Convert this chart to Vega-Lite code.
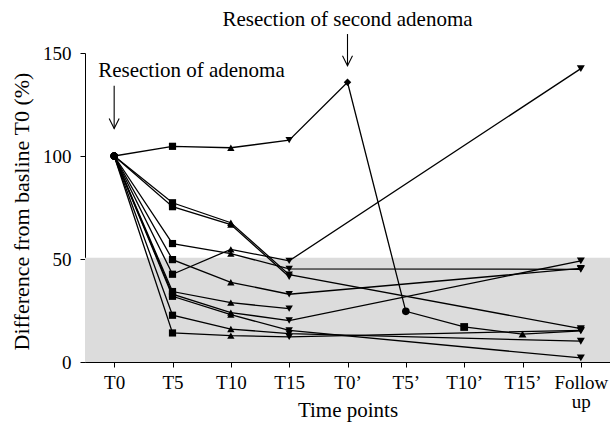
{
  "$schema": "https://vega.github.io/schema/vega-lite/v6.json",
  "width": 525,
  "height": 309,
  "autosize": "none",
  "padding": {"left": 85, "top": 53, "right": 0, "bottom": 61},
  "background": "white",
  "config": {
    "view": {"stroke": null},
    "font": "Liberation Serif",
    "axis": {
      "labelFont": "Liberation Serif",
      "titleFont": "Liberation Serif",
      "labelFontSize": 19,
      "titleFontSize": 20,
      "titleFontWeight": "normal",
      "labelColor": "black",
      "titleColor": "black",
      "domainColor": "black",
      "tickColor": "black",
      "tickSize": 5,
      "grid": false
    }
  },
  "datasets": {
    "series": [
      {"id": "A", "step": 0, "time": "T0", "value": 100},
      {"id": "A", "step": 1, "time": "T5", "value": 104.7},
      {"id": "A", "step": 2, "time": "T10", "value": 104},
      {"id": "A", "step": 3, "time": "T15", "value": 107.7},
      {"id": "A", "step": 4, "time": "T0’", "value": 135.8},
      {"id": "A", "step": 5, "time": "T5’", "value": 24.6},
      {"id": "A", "step": 6, "time": "T10’", "value": 17},
      {"id": "A", "step": 7, "time": "T15’", "value": 13.5},
      {"id": "A", "step": 8, "time": "Follow up", "value": 15.1},

      {"id": "U1", "step": 0, "time": "T0", "value": 100},
      {"id": "U1", "step": 1, "time": "T5", "value": 77.3},
      {"id": "U1", "step": 2, "time": "T10", "value": 67.6},
      {"id": "U1", "step": 3, "time": "T15", "value": 42.4},
      {"id": "U1", "step": 8, "time": "Follow up", "value": 16.2},

      {"id": "U2", "step": 0, "time": "T0", "value": 100},
      {"id": "U2", "step": 1, "time": "T5", "value": 75.4},
      {"id": "U2", "step": 2, "time": "T10", "value": 66.7},
      {"id": "U2", "step": 3, "time": "T15", "value": 41.4},

      {"id": "U3", "step": 0, "time": "T0", "value": 100},
      {"id": "U3", "step": 1, "time": "T5", "value": 57.5},
      {"id": "U3", "step": 2, "time": "T10", "value": 52.6},
      {"id": "U3", "step": 3, "time": "T15", "value": 45.2},
      {"id": "U3", "step": 8, "time": "Follow up", "value": 45},

      {"id": "U4", "step": 0, "time": "T0", "value": 100},
      {"id": "U4", "step": 1, "time": "T5", "value": 42.6},
      {"id": "U4", "step": 2, "time": "T10", "value": 54.7},
      {"id": "U4", "step": 3, "time": "T15", "value": 49.1},
      {"id": "U4", "step": 8, "time": "Follow up", "value": 142.4},

      {"id": "U5", "step": 0, "time": "T0", "value": 100},
      {"id": "U5", "step": 1, "time": "T5", "value": 49.7},
      {"id": "U5", "step": 2, "time": "T10", "value": 38.7},
      {"id": "U5", "step": 3, "time": "T15", "value": 32.9},
      {"id": "U5", "step": 8, "time": "Follow up", "value": 45.4},

      {"id": "L1", "step": 0, "time": "T0", "value": 100},
      {"id": "L1", "step": 1, "time": "T5", "value": 34.2},
      {"id": "L1", "step": 2, "time": "T10", "value": 28.8},
      {"id": "L1", "step": 3, "time": "T15", "value": 25.9},

      {"id": "L2", "step": 0, "time": "T0", "value": 100},
      {"id": "L2", "step": 1, "time": "T5", "value": 32.9},
      {"id": "L2", "step": 2, "time": "T10", "value": 24},
      {"id": "L2", "step": 3, "time": "T15", "value": 20.1},
      {"id": "L2", "step": 8, "time": "Follow up", "value": 49.1},

      {"id": "L3", "step": 0, "time": "T0", "value": 100},
      {"id": "L3", "step": 1, "time": "T5", "value": 31.9},
      {"id": "L3", "step": 2, "time": "T10", "value": 23},
      {"id": "L3", "step": 3, "time": "T15", "value": 15.3},
      {"id": "L3", "step": 8, "time": "Follow up", "value": 2},

      {"id": "L4", "step": 0, "time": "T0", "value": 100},
      {"id": "L4", "step": 1, "time": "T5", "value": 22.7},
      {"id": "L4", "step": 2, "time": "T10", "value": 16},
      {"id": "L4", "step": 3, "time": "T15", "value": 13.8},
      {"id": "L4", "step": 8, "time": "Follow up", "value": 10.1},

      {"id": "L5", "step": 0, "time": "T0", "value": 100},
      {"id": "L5", "step": 1, "time": "T5", "value": 14.1},
      {"id": "L5", "step": 2, "time": "T10", "value": 12.8},
      {"id": "L5", "step": 3, "time": "T15", "value": 12.2},
      {"id": "L5", "step": 8, "time": "Follow up", "value": 15.4}
    ],
    "notes": [
      {"time": "T0", "label": "Resection of adenoma", "textY": 138.5, "top": 134.1, "tip": 113.3},
      {"time": "T0’", "label": "Resection of second adenoma", "textY": 163.2, "top": 159.2, "tip": 143.8}
    ]
  },
  "encoding": {
    "x": {
      "field": "time",
      "type": "ordinal",
      "scale": {
        "type": "point",
        "padding": 0.5,
        "domain": ["T0", "T5", "T10", "T15", "T0’", "T5’", "T10’", "T15’", "Follow up"]
      },
      "sort": null,
      "axis": {
        "title": "Time points",
        "labelAngle": 0,
        "labelPadding": 6,
        "labelLineHeight": 19,
        "labelExpr": "datum.label == 'Follow up' ? ['Follow', 'up'] : datum.label",
        "titleY": 54,
        "titleFontSize": 21,
        "titleBaseline": "alphabetic"
      }
    }
  },
  "layer": [
    {
      "data": {"values": [{"lo": 0, "hi": 50.6}]},
      "mark": {"type": "rect", "color": "#dcdcdc"},
      "encoding": {
        "x": null,
        "y": {"field": "lo", "type": "quantitative"},
        "y2": {"field": "hi"}
      }
    },
    {
      "data": {"name": "series"},
      "mark": {"type": "line", "color": "black", "strokeWidth": 1.3},
      "encoding": {
        "y": {
          "field": "value",
          "type": "quantitative",
          "scale": {"domain": [0, 150], "nice": false},
          "axis": {
            "title": "Difference from basline T0 (%)",
            "titleFontSize": 22,
            "titleY": 158,
            "values": [0, 50, 100, 150],
            "labelPadding": 9,
            "titlePadding": 9
          }
        },
        "detail": {"field": "id"},
        "order": {"field": "step"}
      }
    },
    {
      "data": {"name": "series"},
      "mark": {"type": "point", "filled": true, "color": "black", "opacity": 1},
      "encoding": {
        "y": {"field": "value", "type": "quantitative"},
        "shape": {
          "field": "time",
          "type": "nominal",
          "scale": {
            "domain": ["T0", "T5", "T10", "T15", "T0’", "T5’", "T10’", "T15’", "Follow up"],
            "range": ["circle", "square", "triangle-up", "triangle-down", "diamond", "circle", "square", "triangle-up", "triangle-down"]
          },
          "legend": null
        },
        "size": {
          "field": "time",
          "type": "nominal",
          "scale": {
            "domain": ["T0", "T5", "T10", "T15", "T0’", "T5’", "T10’", "T15’", "Follow up"],
            "range": [50, 64, 50, 50, 25, 40, 64, 40, 45]
          },
          "legend": null
        }
      }
    },
    {
      "data": {"name": "notes"},
      "transform": [{"filter": "datum.time == 'T0'"}],
      "mark": {"type": "text", "font": "Liberation Serif", "fontSize": 21, "color": "black", "baseline": "alphabetic", "align": "left", "dx": -16},
      "encoding": {
        "y": {"field": "textY", "type": "quantitative"},
        "text": {"field": "label"}
      }
    },
    {
      "data": {"name": "notes"},
      "transform": [{"filter": "datum.time != 'T0'"}],
      "mark": {"type": "text", "font": "Liberation Serif", "fontSize": 21, "color": "black", "baseline": "alphabetic", "align": "center"},
      "encoding": {
        "y": {"field": "textY", "type": "quantitative"},
        "text": {"field": "label"}
      }
    },
    {
      "data": {"name": "notes"},
      "mark": {"type": "rule", "color": "black", "strokeWidth": 1.1},
      "encoding": {
        "y": {"field": "top", "type": "quantitative"},
        "y2": {"field": "tip"}
      }
    },
    {
      "data": {"name": "notes"},
      "mark": {"type": "point", "shape": "M-1,-2L0,0L1,-2", "filled": false, "color": "black", "strokeWidth": 1.1, "size": 100, "opacity": 1},
      "encoding": {
        "y": {"field": "tip", "type": "quantitative"}
      }
    }
  ]
}
